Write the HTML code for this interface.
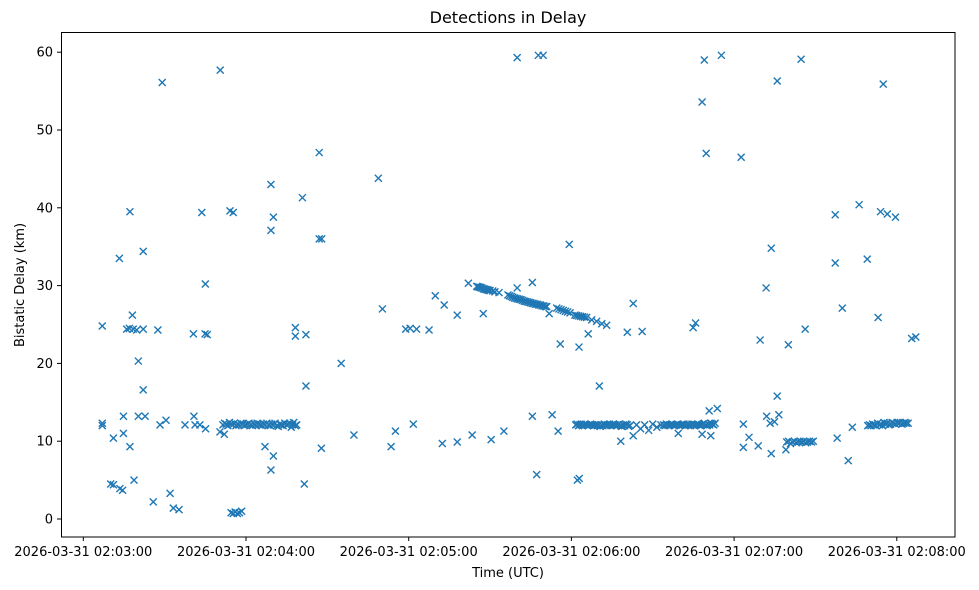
<!DOCTYPE html>
<html><head><meta charset="utf-8"><style>
html,body{margin:0;padding:0;background:#fff;}
svg{display:block;font-family:"DejaVu Sans","Liberation Sans",sans-serif;}
</style></head><body>
<svg id="chart" width="979" height="590" viewBox="0 0 979 590">
<rect x="0" y="0" width="979" height="590" fill="#fff"/>
<text x="508" y="23" font-size="16" text-anchor="middle" fill="#000">Detections in Delay</text>
<text x="508" y="577" font-size="13" text-anchor="middle" fill="#000">Time (UTC)</text>
<text x="0" y="0" font-size="13" text-anchor="middle" fill="#000" transform="translate(24,285) rotate(-90)">Bistatic Delay (km)</text>
<g id="marks"></g>
<g id="axes"></g>
<rect x="61.5" y="32.5" width="893.5" height="504.5" fill="none" stroke="#000" stroke-width="1"/>
</svg>
<script>
// seconds after 2026-03-31 02:03:00 UTC
const times = [7.0,7.0,7.0,11.1,10.1,11.1,13.5,14.5,13.3,14.8,14.8,17.2,18.1,16.0,17.0,18.4,19.7,22.1,17.2,20.3,22.1,22.1,20.3,22.8,18.7,25.8,27.5,29.1,28.3,30.5,32.0,33.2,35.3,37.5,40.8,41.2,43.0,45.1,40.6,44.9,45.7,43.7,45.0,50.5,50.4,52.0,
51.5,52.1,52.7,53.3,53.9,54.5,55.1,55.7,56.3,56.9,57.5,58.1,58.7,59.3,59.9,60.5,61.1,61.7,62.3,62.9,63.5,64.1,64.7,65.3,65.9,66.5,67.1,67.7,68.3,68.9,69.5,70.1,70.7,71.3,71.9,72.5,73.1,73.7,74.3,74.9,75.5,76.1,76.7,77.2,77.6,78.2,78.7,
54.1,55.3,54.5,55.3,56.0,56.8,57.6,58.4,67.0,70.1,69.2,69.2,70.1,69.2,78.2,78.2,82.1,80.8,82.1,81.5,87.0,87.0,87.9,87.8,95.1,99.8,
108.8,110.3,113.5,115.1,118.9,120.5,122.9,127.5,121.7,129.8,133.1,137.9,132.4,137.9,143.4,142.0,
145.1,145.5,146.0,146.5,147.0,147.5,148.0,148.5,149.0,149.5,150.0,151.0,151.8,147.5,150.4,153.3,155.1,
156.6,157.2,157.8,158.4,159.0,159.6,160.2,160.8,161.4,162.0,162.6,163.2,163.8,164.4,165.0,165.6,166.2,166.8,167.4,168.0,168.6,169.2,169.8,170.4,170.9,
160.0,160.0,165.6,165.6,167.2,167.8,169.6,171.8,172.9,175.1,174.6,175.4,176.2,177.0,177.8,178.6,179.5,175.9,179.2,
181.3,182.0,182.7,183.4,184.1,184.8,185.6,182.2,182.9,182.8,186.2,187.5,189.3,191.2,193.0,190.3,
181.6,182.1,182.6,183.1,183.6,184.1,184.6,185.1,185.6,186.1,186.6,187.1,187.6,188.1,188.6,189.1,189.6,190.1,190.6,191.1,191.6,192.1,192.6,193.1,193.6,194.1,194.6,195.1,195.6,196.1,196.6,197.1,197.6,198.1,198.6,199.1,199.6,200.1,200.6,201.1,201.6,
198.2,200.6,202.8,202.8,204.0,205.5,207.0,208.5,210.0,211.5,213.0,206.1,
214.0,214.5,215.0,215.5,216.0,216.5,217.0,217.5,218.0,218.5,219.0,219.5,220.0,220.5,221.0,221.5,222.0,222.5,223.0,223.5,224.0,224.5,225.0,225.5,226.0,226.5,227.0,227.5,228.0,228.5,229.0,229.5,230.0,230.5,231.0,231.5,232.0,232.5,233.0,
219.4,228.2,231.4,230.8,233.8,224.9,225.8,229.0,228.2,229.7,235.3,242.6,243.4,243.4,245.5,248.9,249.6,251.8,253.7,253.7,
252.0,253.3,254.9,256.5,255.9,255.9,259.1,260.0,
259.4,260.1,260.8,261.5,262.2,262.9,263.6,264.3,265.0,265.7,266.4,267.1,267.8,268.5,269.2,264.7,266.2,
277.3,277.3,278.0,279.9,282.1,283.6,286.1,289.1,293.1,294.0,296.5,299.5,295.0,
289.3,289.9,290.5,291.1,291.7,292.3,292.9,293.5,294.1,294.7,295.3,295.9,296.5,297.1,297.7,298.3,298.9,299.5,300.1,300.7,301.3,301.9,302.5,303.0,303.5,304.2,305.5,307.0];
const delays = [24.8,12.0,12.3,10.4,4.5,4.4,3.9,3.7,33.5,13.2,11.0,39.5,26.2,24.4,24.5,24.4,24.3,24.4,9.3,20.3,16.6,34.4,13.2,13.2,5.0,2.2,24.3,56.1,12.1,12.7,3.3,1.4,1.2,12.1,13.2,12.1,12.1,11.6,23.8,23.8,23.7,39.4,30.2,57.7,11.2,10.9,
12.1,12.3,12.2,12.0,12.4,12.2,12.1,12.3,12.0,12.2,12.1,12.3,12.2,12.0,12.1,12.2,12.3,12.1,12.0,12.2,12.1,12.3,12.2,12.1,12.0,12.2,12.1,12.3,12.1,12.0,12.2,12.1,12.3,12.0,11.9,12.2,12.1,12.0,12.3,12.1,12.2,12.3,11.8,12.1,12.4,12.0,12.1,
39.6,39.4,0.8,0.7,0.9,0.7,0.8,1.0,9.3,8.1,6.3,43.0,38.8,37.1,24.6,23.5,23.7,41.3,17.1,4.5,47.1,36.0,36.0,9.1,20.0,10.8,
43.8,27.0,9.3,11.3,24.4,24.5,24.4,24.3,12.2,28.7,27.5,26.2,9.7,9.9,10.8,30.3,
29.9,29.85,29.8,29.75,29.7,29.6,29.55,29.5,29.45,29.4,29.35,29.3,29.2,26.4,10.2,29.1,11.3,
28.8,28.7,28.6,28.5,28.4,28.35,28.3,28.25,28.2,28.1,28.0,27.95,27.9,27.85,27.8,27.7,27.7,27.6,27.6,27.5,27.5,27.4,27.4,27.3,27.3,
59.3,29.7,30.4,13.2,5.7,59.6,59.6,26.4,13.4,11.3,27.1,27.0,26.9,26.8,26.7,26.6,26.5,22.5,35.3,
26.2,26.15,26.1,26.05,26.0,25.95,25.9,5.0,5.2,22.1,23.8,25.6,25.4,25.1,24.9,17.1,
12.1,12.2,12.0,12.1,12.2,12.0,12.1,12.2,12.1,12.0,12.1,12.2,12.1,12.0,12.1,12.1,12.0,12.1,11.9,12.1,12.0,12.2,12.1,12.0,12.1,12.2,12.0,12.1,12.2,12.1,12.0,12.1,12.2,12.0,11.9,12.1,12.0,12.2,12.1,11.9,12.0,
10.0,24.0,27.7,10.7,12.1,11.6,12.1,11.4,12.2,11.8,12.1,24.1,
12.1,12.0,12.2,12.1,12.0,12.1,12.2,12.1,12.0,12.1,12.2,12.1,12.0,12.1,12.1,12.2,12.0,12.1,12.2,12.1,12.0,12.2,12.1,12.0,12.1,12.2,12.1,12.0,12.1,12.2,12.3,12.1,12.0,12.2,12.1,12.3,12.2,12.1,12.3,
11.0,10.9,10.7,13.9,14.2,24.6,25.2,59.0,53.6,47.0,59.6,46.5,12.2,9.2,10.5,9.4,23.0,29.7,34.8,8.4,
13.2,12.3,12.5,13.4,15.8,56.3,8.9,22.4,
9.9,10.0,9.7,9.9,10.0,9.8,9.9,10.0,9.9,10.0,9.8,9.9,10.0,9.9,10.0,59.1,24.4,
39.1,32.9,10.4,27.1,7.5,11.8,40.4,33.4,25.9,39.5,39.2,38.8,55.9,
12.0,12.1,12.0,12.2,12.1,12.0,12.3,12.1,12.2,12.0,12.4,12.2,12.3,12.1,12.2,12.4,12.3,12.2,12.4,12.3,12.4,12.2,12.3,12.4,12.3,12.3,23.2,23.4];
const xTickSecs = [0,60,120,180,240,300];
const xTickLabels = ["2026-03-31 02:03:00","2026-03-31 02:04:00","2026-03-31 02:05:00","2026-03-31 02:06:00","2026-03-31 02:07:00","2026-03-31 02:08:00"];
const yTicks = [0,10,20,30,40,50,60];

const NS = "http://www.w3.org/2000/svg";
function xScale(s){ return 83.3 + s * (162.7/60); }
function yScale(v){ return 519 - v * 7.78; }
const marks = document.getElementById('marks');
const axes = document.getElementById('axes');
const n = Math.min(times.length, delays.length);
for (let i = 0; i < n; i++) {
  const cx = xScale(times[i]), cy = yScale(delays[i]), r = 3.5;
  const p = document.createElementNS(NS, 'path');
  p.setAttribute('d', `M${cx-r},${cy-r}L${cx+r},${cy+r}M${cx-r},${cy+r}L${cx+r},${cy-r}`);
  p.setAttribute('stroke', '#1f77b4');
  p.setAttribute('stroke-width', '1.4');
  p.setAttribute('fill', 'none');
  
  
  marks.appendChild(p);
}
xTickSecs.forEach((s, i) => {
  const x = xScale(s);
  const l = document.createElementNS(NS, 'line');
  l.setAttribute('x1', x); l.setAttribute('x2', x); l.setAttribute('y1', 537); l.setAttribute('y2', 541);
  l.setAttribute('stroke', '#000');
  
  
  axes.appendChild(l);
  const t = document.createElementNS(NS, 'text');
  t.setAttribute('x', x); t.setAttribute('y', 556);
  t.setAttribute('font-size', '13'); t.setAttribute('text-anchor', 'middle');
  t.textContent = xTickLabels[i];
  
  
  axes.appendChild(t);
});
yTicks.forEach(v => {
  const y = yScale(v);
  const l = document.createElementNS(NS, 'line');
  l.setAttribute('x1', 57); l.setAttribute('x2', 61.5); l.setAttribute('y1', y); l.setAttribute('y2', y);
  l.setAttribute('stroke', '#000');
  
  
  axes.appendChild(l);
  const t = document.createElementNS(NS, 'text');
  t.setAttribute('x', 53); t.setAttribute('y', y + 4.5);
  t.setAttribute('font-size', '13'); t.setAttribute('text-anchor', 'end');
  t.textContent = String(v);
  
  
  axes.appendChild(t);
});
</script>
</body></html>
